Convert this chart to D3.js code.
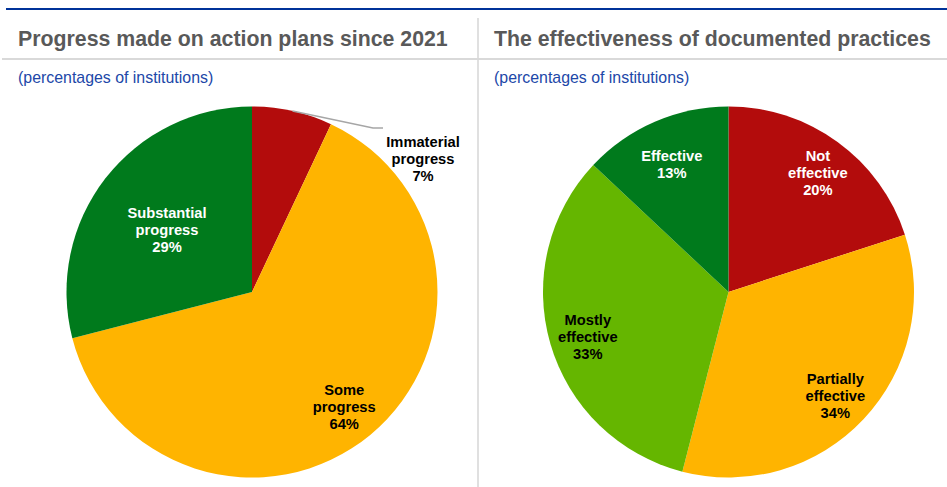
<!DOCTYPE html>
<html>
<head>
<meta charset="utf-8">
<script src="https://cdn.jsdelivr.net/npm/d3@7"></script>
<style>
  html, body { margin: 0; padding: 0; background: #ffffff; }
  svg { display: block; }
</style>
</head>
<body>
<svg id="chart" width="947" height="487"></svg>
<script>
// Left panel: progress on action plans
const progressCategories = ["Immaterial progress", "Some progress", "Substantial progress"];
const progressValues = [7, 64, 29];
const progressColors = ["#b30c0c", "#ffb400", "#007a1c"];

// Right panel: effectiveness of documented practices
const effectCategories = ["Not effective", "Partially effective", "Mostly effective", "Effective"];
const effectValues = [20, 34, 33, 13];
const effectColors = ["#b30c0c", "#ffb400", "#65b600", "#007a1c"];

const panelTitles = ["Progress made on action plans since 2021", "The effectiveness of documented practices"];
const panelSubtitle = "(percentages of institutions)";

const svg = d3.select("#chart");
const W = 947, H = 487;
const FONT = "'Liberation Sans', Arial, Helvetica, sans-serif";

// frame: blue rule on top, grey rule under titles, grey divider between panels
svg.append("line").attr("x1", 6).attr("x2", W).attr("y1", 9).attr("y2", 9)
  .attr("stroke", "#003299").attr("stroke-width", 2.2);
svg.append("line").attr("x1", 2).attr("x2", W).attr("y1", 59).attr("y2", 59)
  .attr("stroke", "#d9d9d9").attr("stroke-width", 1.8);
svg.append("line").attr("x1", 478).attr("x2", 478).attr("y1", 18).attr("y2", H)
  .attr("stroke", "#d9d9d9").attr("stroke-width", 1.6);

const panelX = [18, 494];
panelTitles.forEach((t, i) => {
  svg.append("text").attr("x", panelX[i]).attr("y", 46)
    .attr("font-family", FONT).attr("font-size", 21.3).attr("font-weight", "bold")
    .attr("fill", "#595959").text(t);
  svg.append("text").attr("x", panelX[i]).attr("y", 83)
    .attr("font-family", FONT).attr("font-size", 15.9)
    .attr("fill", "#2147a8").text(panelSubtitle);
});

const R = 185.5;
const arc = d3.arc().innerRadius(0).outerRadius(R);
const pie = d3.pie().sort(null).value(d => d.value);

// white labels on the dark slices, black on the light ones
const darkFill = new Set(["#b30c0c", "#007a1c"]);

function drawPie(cx, cy, cats, vals, colors, labelRadius, outside) {
  const data = cats.map((c, i) => ({ cat: c, value: vals[i], color: colors[i] }));
  const g = svg.append("g").attr("transform", `translate(${cx},${cy})`);
  const arcs = pie(data);

  g.selectAll("path").data(arcs).join("path")
    .attr("d", arc).attr("fill", d => d.data.color);

  const lineH = 17;
  arcs.forEach(a => {
    const lines = a.data.cat.split(" ").concat([a.data.value + "%"]);
    const mid = (a.startAngle + a.endAngle) / 2;
    let x, y, fill;
    if (outside && outside[a.data.cat]) {
      const o = outside[a.data.cat];
      // leader line from the rim to the label
      const px = Math.sin(mid) * R, py = -Math.cos(mid) * R;
      g.append("polyline")
        .attr("points", [[px, py], [o.elbow[0], o.elbow[1]], [o.elbow[0] + 10, o.elbow[1]]].map(p => p.join(",")).join(" "))
        .attr("fill", "none").attr("stroke", "#a6a6a6").attr("stroke-width", 1.5);
      x = o.label[0]; y = o.label[1]; fill = "#000000";
    } else {
      const r = R * (labelRadius[a.data.cat] || 0.8);
      x = Math.sin(mid) * r; y = -Math.cos(mid) * r + 4;
      fill = darkFill.has(a.data.color) ? "#ffffff" : "#000000";
    }
    const t = g.append("text")
      .attr("font-family", FONT).attr("font-size", 14.7).attr("font-weight", "bold")
      .attr("fill", fill).attr("text-anchor", "middle");
    const y0 = y - (lines.length - 1) * lineH / 2 + 5;
    lines.forEach((ln, k) => {
      t.append("tspan").attr("x", x).attr("y", y0 + k * lineH).text(ln);
    });
  });
}

drawPie(252, 292, progressCategories, progressValues, progressColors,
  { "Substantial progress": 0.58, "Some progress": 0.78 },
  { "Immaterial progress": { elbow: [121, -164], label: [171, -133] } });

drawPie(728.5, 292, effectCategories, effectValues, effectColors,
  { "Not effective": 0.82, "Partially effective": 0.79, "Mostly effective": 0.79, "Effective": 0.77 },
  null);
</script>
</body>
</html>
